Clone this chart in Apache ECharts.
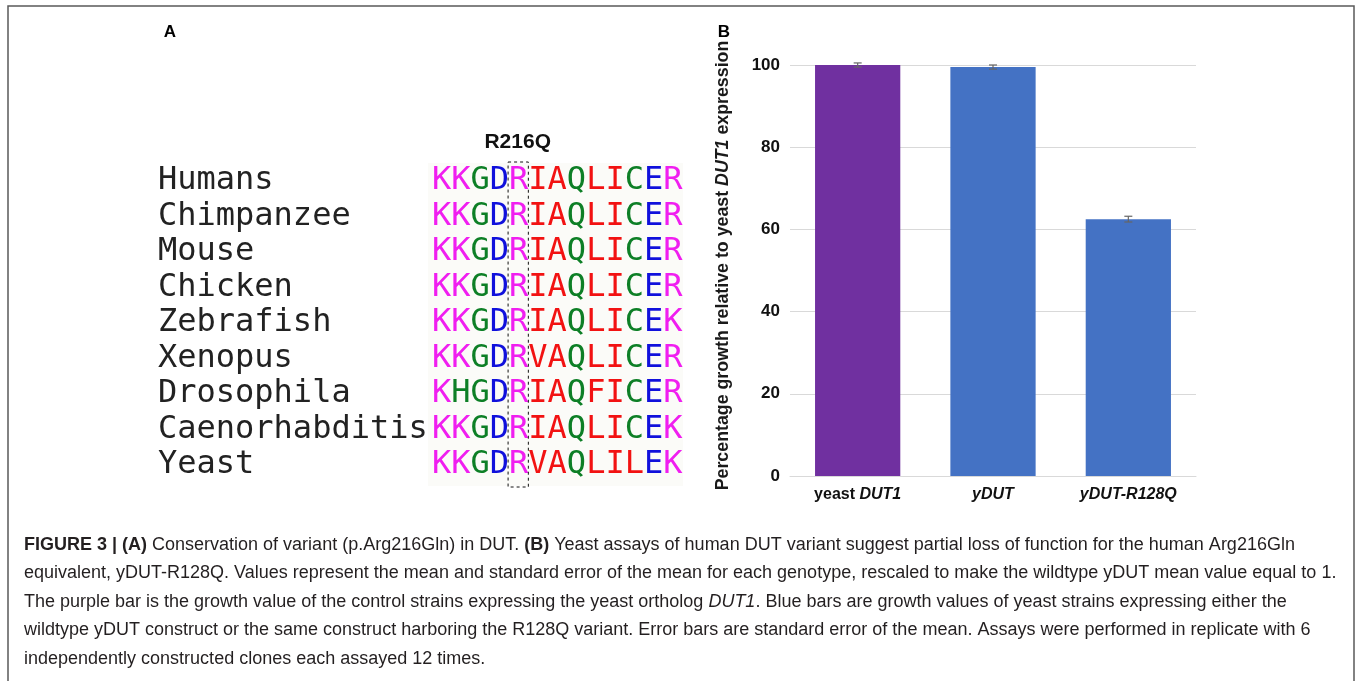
<!DOCTYPE html>
<html>
<head>
<meta charset="utf-8">
<script src="https://cdn.jsdelivr.net/npm/echarts@6/dist/echarts.min.js"></script>
<style>
html,body{margin:0;padding:0;background:#fff;}
#chart{width:1357px;height:681px;}
</style>
</head>
<body>
<div id="chart"></div>
<script>
// ---------- Panel B data ----------
const categories = ['yeast DUT1', 'yDUT', 'yDUT-R128Q'];
const growth = [100, 99.5, 62.5];
const sem = [0.5, 0.5, 0.7];
const barColors = ['#7030a0', '#4472c4', '#4472c4'];
const yAxisTitle = ['Percentage growth relative to yeast ', 'DUT1', ' expression'];

// ---------- Panel A data ----------
const species = ['Humans', 'Chimpanzee', 'Mouse', 'Chicken', 'Zebrafish', 'Xenopus', 'Drosophila', 'Caenorhabditis', 'Yeast'];
const sequences = ['KKGDRIAQLICERI', 'KKGDRIAQLICERI', 'KKGDRIAQLICER', 'KKGDRIAQLICERI', 'KKGDRIAQLICEK',
                   'KKGDRVAQLICER', 'KHGDRIAQFICERI', 'KKGDRIAQLICEK', 'KKGDRVAQLILEK'];
const variantLabel = 'R216Q';
const variantIndex = 4;

// ---------- Caption ----------
const captionLines = [
  '{b|FIGURE 3 | (A)} Conservation of variant (p.Arg216Gln) in DUT. {b|(B)} Yeast assays of human DUT variant suggest partial loss of function for the human Arg216Gln',
  'equivalent, yDUT-R128Q. Values represent the mean and standard error of the mean for each genotype, rescaled to make the wildtype yDUT mean value equal to 1.',
  'The purple bar is the growth value of the control strains expressing the yeast ortholog {i|DUT1}. Blue bars are growth values of yeast strains expressing either the',
  'wildtype yDUT construct or the same construct harboring the R128Q variant. Error bars are standard error of the mean. Assays were performed in replicate with 6',
  'independently constructed clones each assayed 12 times.'
];

const residueColor = {K:'m', R:'m', G:'g', Q:'g', C:'g', H:'g', D:'b', E:'b', I:'r', A:'r', L:'r', V:'r', F:'r'};

// fit caption font to measured width of line 2
const cv = document.createElement('canvas').getContext('2d');
cv.font = '100px "Liberation Sans"';
const plain2 = captionLines[1];
const capSize = Math.round(100 * 1310 / cv.measureText(plain2).width * 10) / 10;

const chart = echarts.init(document.getElementById('chart'));

const graphics = [];
// outer frame
graphics.push({type:'rect', shape:{x:8, y:6, width:1346, height:700}, style:{fill:'none', stroke:'#5a5a5a', lineWidth:1.5}, silent:true});
// panel letters
graphics.push({type:'text', x:170, y:32, style:{text:'A', font:'bold 17px "Liberation Sans"', fill:'#000', align:'center', verticalAlign:'middle'}});
graphics.push({type:'text', x:724, y:32, style:{text:'B', font:'bold 17px "Liberation Sans"', fill:'#000', align:'center', verticalAlign:'middle'}});

// Panel A alignment
const charW = 19.27, seqX = 432, rowY0 = 181, rowStep = 35.5, monoFont = '32px "DejaVu Sans Mono"';
const seqRich = {
  m:{fill:'#f01ef0', font:monoFont},
  g:{fill:'#0d7f26', font:monoFont},
  b:{fill:'#1010dc', font:monoFont},
  r:{fill:'#f21212', font:monoFont}
};
graphics.push({type:'rect', shape:{x:seqX-4, y:163, width:683-seqX+4, height:323}, style:{fill:'#fbfbf8'}, silent:true, z:0});
species.forEach((s, i) => {
  const y = rowY0 + i * rowStep;
  graphics.push({type:'text', x:158, y:y, style:{text:s, font:monoFont, fill:'#222', verticalAlign:'middle'}, z:2});
  const rich = sequences[i].split('').map(c => '{' + residueColor[c] + '|' + c + '}').join('');
  graphics.push({type:'text', x:seqX, y:y, style:{text:rich, rich:seqRich, font:monoFont, verticalAlign:'middle'}, z:2});
});
// cover for truncated column
graphics.push({type:'rect', shape:{x:684, y:150, width:18, height:345}, style:{fill:'#fff'}, silent:true, z:5});
// dashed box around variant
const boxX = seqX + variantIndex * charW - 1;
graphics.push({type:'rect', shape:{x:boxX, y:162, width:charW + 1, height:325}, style:{fill:'none', stroke:'#111', lineWidth:1, lineDash:[3,3]}, z:6});
graphics.push({type:'text', x:boxX + charW/2, y:142, style:{text:variantLabel, font:'bold 21px "Liberation Sans"', fill:'#111', align:'center', verticalAlign:'middle'}, z:6});

// caption
captionLines.forEach((t, i) => {
  graphics.push({type:'text', x:24, y:545 + i * 28.5, style:{
    text:t, font: capSize + 'px "Liberation Sans"', fill:'#231f20', verticalAlign:'middle',
    rich:{
      b:{font:'bold ' + capSize + 'px "Liberation Sans"', fill:'#231f20'},
      i:{font:'italic ' + capSize + 'px "Liberation Sans"', fill:'#231f20'}
    }
  }});
});

const labelRich = {
  n:{fontFamily:'Liberation Sans', fontWeight:'bold', fontSize:16, color:'#111'},
  i:{fontFamily:'Liberation Sans', fontWeight:'bold', fontStyle:'italic', fontSize:16, color:'#111'}
};

const option = {
  animation:false,
  backgroundColor:'#fff',
  grid:{left:790, right:161, top:65, bottom:205},
  xAxis:{
    type:'category', data:categories,
    axisLine:{show:true, lineStyle:{color:'#d9d9d9'}},
    axisTick:{show:false},
    axisLabel:{
      margin:11,
      formatter:(v) => v === 'yeast DUT1' ? '{n|yeast }{i|DUT1}' : '{i|' + v + '}',
      rich:labelRich
    }
  },
  yAxis:{
    type:'value', min:0, max:100, interval:20,
    axisLine:{show:false}, axisTick:{show:false},
    splitLine:{lineStyle:{color:'#d9d9d9', width:1}},
    axisLabel:{margin:10, fontFamily:'Liberation Sans', fontWeight:'bold', fontSize:17, color:'#111'},
    name:'{n|' + yAxisTitle[0] + '}{i|' + yAxisTitle[1] + '}{n|' + yAxisTitle[2] + '}',
    nameLocation:'middle', nameRotate:90, nameGap:58,
    nameTextStyle:{
      padding:[0, 0, 0, 10],
      rich:{
        n:{fontFamily:'Liberation Sans', fontWeight:'bold', fontSize:17.8, color:'#1a1a1a'},
        i:{fontFamily:'Liberation Sans', fontWeight:'bold', fontStyle:'italic', fontSize:17.8, color:'#1a1a1a'}
      }
    }
  },
  series:[
    {
      type:'bar', barWidth:'63%',
      data: growth.map((v, i) => ({value:v, itemStyle:{color:barColors[i]}})),
      z:2
    },
    {
      type:'custom', z:5,
      data: growth.map((v, i) => [i, v, sem[i]]),
      renderItem:(params, api) => {
        const x = api.value(0), y = api.value(1), e = api.value(2);
        const hi = api.coord([x, y + e]);
        const lo = api.coord([x, y - e]);
        const w = 4;
        const st = {stroke:'#666', lineWidth:1.2};
        return {type:'group', children:[
          {type:'line', shape:{x1:hi[0], y1:hi[1], x2:lo[0], y2:lo[1]}, style:st},
          {type:'line', shape:{x1:hi[0]-w, y1:hi[1], x2:hi[0]+w, y2:hi[1]}, style:st},
          {type:'line', shape:{x1:lo[0]-w, y1:lo[1], x2:lo[0]+w, y2:lo[1]}, style:st}
        ]};
      }
    }
  ],
  graphic: graphics
};
chart.setOption(option);
</script>
</body>
</html>
